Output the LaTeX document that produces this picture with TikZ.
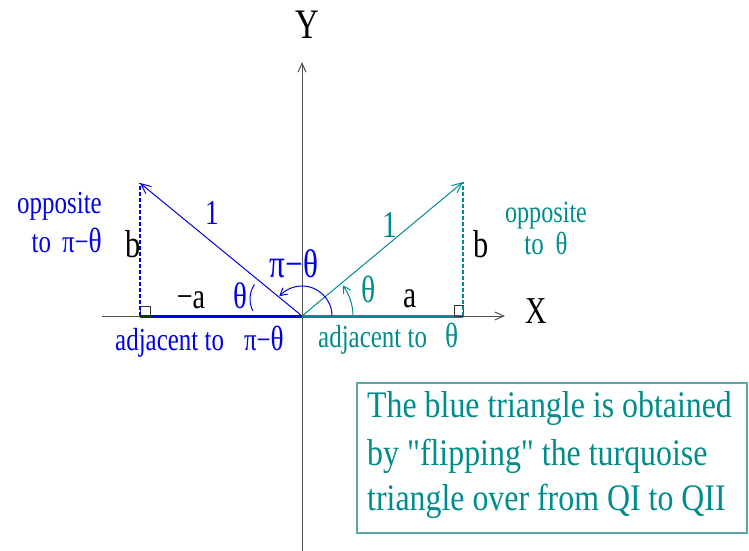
\documentclass[tikz,border=0pt]{standalone}
\usepackage{fontspec}
\setmainfont{Liberation Serif}
\newfontfamily\lblfont[FakeStretch=0.78]{Liberation Serif}
\newfontfamily\boxfont[FakeStretch=0.85]{Liberation Serif}
\usetikzlibrary{arrows.meta,bending}
\definecolor{myblue}{RGB}{0,0,235}
\definecolor{myteal}{RGB}{0,140,140}
\definecolor{axisgray}{RGB}{80,80,80}
\definecolor{boxedge}{RGB}{90,165,165}
\newcommand\lsz[1]{\lblfont\fontsize{#1}{#1}\selectfont}
\begin{document}
\begin{tikzpicture}[x=1pt,y=-1pt,
  lbl/.style={inner sep=0pt, anchor=base},
  axis/.style={axisgray, line width=1pt, -{Straight Barb[length=9pt,width=8pt]}},
  hyp/.style={line width=1pt, -{Straight Barb[length=10pt,width=9pt]}},
  base/.style={line width=3pt},
  dsh/.style={line width=1.8pt, dash pattern=on 4pt off 2pt},
  sq/.style={black!80, line width=1pt},
  angarc/.style={line width=1pt, -{Straight Barb[length=7pt,width=8pt,bend]}},
  boxline/.style={lbl, anchor=base west, myteal, font=\boxfont\fontsize{37.5}{37.5}\selectfont}]
\useasboundingbox (0,0) rectangle (749,551);
% coordinates
\coordinate (O) at (302,316);
\coordinate (Ytop) at (302,62);
\coordinate (Ybot) at (302,551);
\coordinate (Xl) at (102,316);
\coordinate (Xr) at (505,316);
\coordinate (L) at (140,316);
\coordinate (LT) at (140,183);
\coordinate (R) at (463,316);
\coordinate (RT) at (463,182);
\coordinate (C) at (276,299);
% axes
\draw[axis] (Ybot) -- (Ytop);
\draw[axis] (Xl) -- (Xr);
% bases
\draw[myblue, base] (L) -- (O);
\draw[myteal, base] (O) -- (R);
% right angle squares
\draw[sq] (L) rectangle ++(10,-10);
\draw[sq] (R) rectangle ++(-9,-11);
% hypotenuses
\draw[myblue, hyp] (O) -- (LT);
\draw[myteal, hyp] (O) -- (RT);
% opposite sides
\draw[myblue, dsh] (L) -- (LT);
\draw[myteal, dsh, line width=1.1pt] (R) -- (RT);
% angle arcs
\draw[myteal, angarc] ([shift={(51,0)}]O) arc[start angle=0, end angle=-37, radius=51];
\draw[myblue, angarc] ([shift={(30,0)}]O) arc[start angle=0, end angle=-139, radius=30];
\draw[myblue, line width=1pt] ([shift={(-146:26)}]C) arc[start angle=-146, end angle=-207, radius=26];
% axis labels
\node[lbl, font=\lsz{42}] (ylab) at (307,38) {Y};
\node[lbl, font=\lsz{38}] (xlab) at (536,323) {X};
% left triangle labels
\node[lbl, anchor=base east, myblue, font=\lsz{32}] (oppL1) at (102,213) {opposite};
\node[lbl, anchor=base east, myblue, font=\lsz{32}] (oppL2) at (102,252) {to\hspace{11pt}π−{\fontsize{35}{35}\selectfont θ}};
\node[lbl, font=\lsz{39}] (bL) at (133,257) {b};
\node[lbl, myblue, font=\lsz{35}] (oneL) at (212,224) {1};
\node[lbl, font=\lsz{36}] (aL) at (191,308) {−a};
\node[lbl, myblue, font=\lsz{37}] (thL) at (240,308) {θ};
\node[lbl, myblue, font=\lsz{40}] (pith) at (294,277) {π−θ};
\node[lbl, anchor=base west, myblue, font=\lsz{32}] (adjL) at (115,350) {adjacent to\hspace{20pt}π−{\fontsize{35}{35}\selectfont θ}};
% right triangle labels
\node[lbl, myteal, font=\lsz{38}] (thR) at (369,302) {θ};
\node[lbl, font=\lsz{38}] (aR) at (410,307) {a};
\node[lbl, myteal, font=\lsz{38}] (oneR) at (390,237) {1};
\node[lbl, font=\lsz{39}] (bR) at (481,257) {b};
\node[lbl, myteal, font=\lsz{31}] (oppR1) at (546,222) {opposite};
\node[lbl, myteal, font=\lsz{32}] (oppR2) at (546,254) {to\hspace{12pt}θ};
\node[lbl, anchor=base west, myteal, font=\lsz{32}] (adjR) at (318,347) {adjacent to\hspace{18pt}{\fontsize{35}{35}\selectfont θ}};
% note box
\draw[boxedge, line width=1.2pt] (357,383) rectangle (747,533);
\node[boxline] (box1) at (367,417) {The blue triangle is obtained};
\node[boxline] (box2) at (367,465) {by "flipping" the turquoise};
\node[boxline] (box3) at (367,510) {triangle over from QI to QII};
\end{tikzpicture}
\end{document}
